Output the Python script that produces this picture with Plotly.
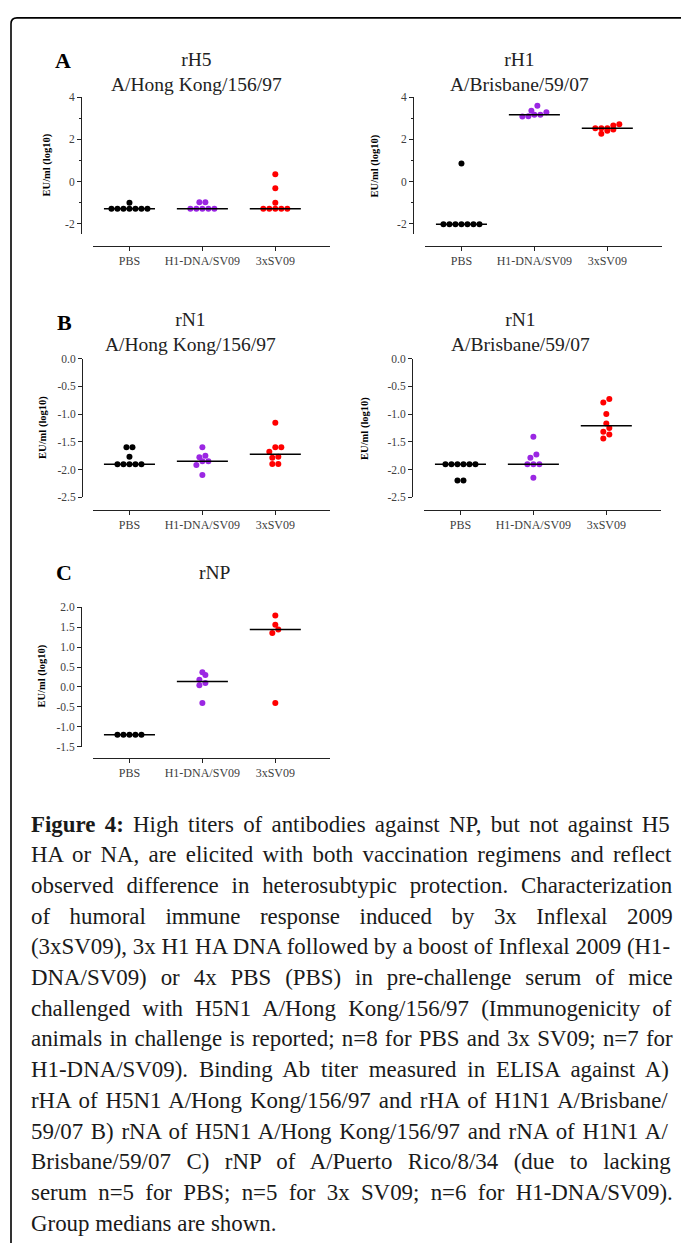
import numpy as np
import plotly.graph_objects as go

W, H = 681, 1249

# ---------------- data ----------------
groups = ["PBS", "H1-DNA/SV09", "3xSV09"]
group_colors = ["#000000", "#9b27e3", "#ff0000"]

# A: rH5 A/Hong Kong/156/97
rH5_pbs = [-1.28, -1.28, -1.28, -1.28, -1.28, -1.28, -1.28, -1.00]
rH5_h1 = [-1.28, -1.28, -1.28, -1.28, -1.28, -0.97, -0.97]
rH5_sv = [-1.28, -1.28, -1.28, -1.28, -1.28, -1.00, -0.31, 0.35]
# A: rH1 A/Brisbane/59/07
rH1_pbs = [-2.02, -2.02, -2.02, -2.02, -2.02, -2.02, -2.02, 0.86]
rH1_h1 = [3.08, 3.10, 3.16, 3.17, 3.28, 3.36, 3.59]
rH1_sv = [2.27, 2.41, 2.47, 2.53, 2.53, 2.53, 2.66, 2.72]
# B: rN1 A/Hong Kong/156/97
rN1hk_pbs = [-1.905, -1.905, -1.905, -1.905, -1.905, -1.77, -1.60, -1.60]
rN1hk_h1 = [-2.10, -1.92, -1.85, -1.85, -1.78, -1.75, -1.60]
rN1hk_sv = [-1.90, -1.90, -1.79, -1.77, -1.68, -1.60, -1.60, -1.155]
# B: rN1 A/Brisbane/59/07
rN1br_pbs = [-1.905, -1.905, -1.905, -1.905, -1.905, -1.905, -2.20, -2.20]
rN1br_h1 = [-2.15, -1.905, -1.905, -1.905, -1.79, -1.73, -1.41]
rN1br_sv = [-1.44, -1.37, -1.32, -1.25, -1.17, -1.00, -0.79, -0.73]
# C: rNP
rNP_pbs = [-1.20, -1.20, -1.20, -1.20, -1.20]
rNP_h1 = [-0.40, 0.04, 0.10, 0.18, 0.30, 0.37]
rNP_sv = [-0.40, 1.35, 1.44, 1.56, 1.79]

ticks_A = [4, 2, 0, -2]
ticktext_A = ["4", "2", "0", "-2"]
minor_A = [3, 1, -1]
ticks_B = [0.0, -0.5, -1.0, -1.5, -2.0, -2.5]
ticktext_B = ["0.0", "-0.5", "-1.0", "-1.5", "-2.0", "-2.5"]
ticks_C = [2.0, 1.5, 1.0, 0.5, 0.0, -0.5, -1.0, -1.5]
ticktext_C = ["2.0", "1.5", "1.0", "0.5", "0.0", "-0.5", "-1.0", "-1.5"]

caption_lines = [
    "<b>Figure 4:</b> High titers of antibodies against NP, but not against H5",
    "HA or NA, are elicited with both vaccination regimens and reflect",
    "observed difference in heterosubtypic protection. Characterization",
    "of humoral immune response induced by 3x Inflexal 2009",
    "(3xSV09), 3x H1 HA DNA followed by a boost of Inflexal 2009 (H1-",
    "DNA/SV09) or 4x PBS (PBS) in pre-challenge serum of mice",
    "challenged with H5N1 A/Hong Kong/156/97 (Immunogenicity of",
    "animals in challenge is reported; n=8 for PBS and 3x SV09; n=7 for",
    "H1-DNA/SV09). Binding Ab titer measured in ELISA against A)",
    "rHA of H5N1 A/Hong Kong/156/97 and rHA of H1N1 A/Brisbane/",
    "59/07 B) rNA of H5N1 A/Hong Kong/156/97 and rNA of H1N1 A/",
    "Brisbane/59/07 C) rNP of A/Puerto Rico/8/34 (due to lacking",
    "serum n=5 for PBS; n=5 for 3x SV09; n=6 for H1-DNA/SV09).",
    "Group medians are shown.",
]

# ---------------- layout helpers ----------------
SERIF = "Liberation Serif, Times New Roman, serif"


def px_x(p):
    return p / W


def px_y(p):
    return 1 - p / H


panels = [
    dict(data=[rH5_pbs, rH5_h1, rH5_sv], title="rH5<br>A/Hong Kong/156/97", tpos=(196, 67),
         xdom=(93, 330), ydom=(92, 230.7), yrange=[-2.5, 4], xpos=242, ypos=81,
         tv=ticks_A, tt=ticktext_A, minor=minor_A, ytl=(47, 161)),
    dict(data=[rH1_pbs, rH1_h1, rH1_sv], title="rH1<br>A/Brisbane/59/07", tpos=(519, 67),
         xdom=(425, 662), ydom=(92, 230.7), yrange=[-2.5, 4], xpos=242, ypos=413,
         tv=ticks_A, tt=ticktext_A, minor=minor_A, ytl=(375, 161)),
    dict(data=[rN1hk_pbs, rN1hk_h1, rN1hk_sv], title="rN1<br>A/Hong Kong/156/97", tpos=(190, 329),
         xdom=(93, 330), ydom=(356, 496), yrange=[-2.5, 0.0], xpos=508.5, ypos=82,
         tv=ticks_B, tt=ticktext_B, minor=None, ytl=(43, 426)),
    dict(data=[rN1br_pbs, rN1br_h1, rN1br_sv], title="rN1<br>A/Brisbane/59/07", tpos=(520, 329),
         xdom=(424, 661), ydom=(356, 496), yrange=[-2.5, 0.0], xpos=508.5, ypos=412,
         tv=ticks_B, tt=ticktext_B, minor=None, ytl=(365, 426)),
    dict(data=[rNP_pbs, rNP_h1, rNP_sv], title="rNP", tpos=(215, 572),
         xdom=(93, 330), ydom=(607, 748), yrange=[-1.5, 2.0], xpos=759, ypos=81,
         tv=ticks_C, tt=ticktext_C, minor=None, ytl=(42, 677)),
]
letters = [("A", 63, 55), ("B", 64, 320), ("C", 64, 572)]

XRANGE = [-0.5, 2.75]
MED_HALF = 0.35


def swarm_offsets(vals, px_per_unit, px_per_cat, bin_px=5.0, step_px=6.0):
    vals = np.asarray(vals, dtype=float)
    order = np.argsort(vals, kind="stable")
    offs = np.zeros(len(vals))
    rows, cur = [], [order[0]]
    for i in order[1:]:
        if (vals[i] - vals[cur[0]]) * px_per_unit < bin_px:
            cur.append(i)
        else:
            rows.append(cur)
            cur = [i]
    rows.append(cur)
    for r in rows:
        n = len(r)
        for k, idx in enumerate(r):
            offs[idx] = (k - (n - 1) / 2) * step_px / px_per_cat
    return offs


fig = go.Figure()
layout = dict(
    width=W, height=H, margin=dict(l=0, r=0, t=0, b=0),
    paper_bgcolor="white", plot_bgcolor="white", showlegend=False,
    font=dict(family=SERIF, color="#222"),
)
annotations = []

for k, p in enumerate(panels, start=1):
    xa = "x" if k == 1 else f"x{k}"
    ya = "y" if k == 1 else f"y{k}"
    px_per_unit = (p["ydom"][1] - p["ydom"][0]) / (p["yrange"][1] - p["yrange"][0])
    px_per_cat = (p["xdom"][1] - p["xdom"][0]) / (XRANGE[1] - XRANGE[0])
    for g, vals in enumerate(p["data"]):
        offs = swarm_offsets(vals, px_per_unit, px_per_cat)
        fig.add_trace(go.Scatter(
            x=g + offs, y=vals, mode="markers", xaxis=xa, yaxis=ya,
            marker=dict(color=group_colors[g], size=6, symbol="circle", line=dict(width=0)),
            cliponaxis=False, hoverinfo="skip"))
        med = float(np.median(vals))
        fig.add_trace(go.Scatter(
            x=[g - MED_HALF, g + MED_HALF], y=[med, med], mode="lines",
            xaxis=xa, yaxis=ya, line=dict(color="#000", width=1.5),
            cliponaxis=False, hoverinfo="skip"))
    xkey = "xaxis" if k == 1 else f"xaxis{k}"
    ykey = "yaxis" if k == 1 else f"yaxis{k}"
    layout[xkey] = dict(
        domain=[px_x(p["xdom"][0]), px_x(p["xdom"][1])], range=XRANGE,
        anchor="free", position=px_y(p["xpos"]),
        showline=True, linecolor="#222", linewidth=1,
        ticks="outside", ticklen=4, tickcolor="#222",
        tickvals=[0, 1, 2], ticktext=groups,
        tickfont=dict(family=SERIF, size=12, color="#404040"),
        showgrid=False, zeroline=False, fixedrange=True)
    ydict = dict(
        domain=[px_y(p["ydom"][1]), px_y(p["ydom"][0])], range=p["yrange"],
        anchor="free", position=px_x(p["ypos"]),
        showline=True, linecolor="#222", linewidth=1,
        ticks="outside", ticklen=4, tickcolor="#222",
        tickvals=p["tv"], ticktext=p["tt"],
        tickfont=dict(family=SERIF, size=11.5, color="#404040"),
        showgrid=False, zeroline=False, fixedrange=True)
    if p["minor"]:
        ydict["minor"] = dict(tickvals=p["minor"], ticks="outside", ticklen=2.5,
                              tickcolor="#222", showgrid=False)
    layout[ykey] = ydict
    annotations.append(dict(
        text=p["title"], x=px_x(p["tpos"][0]), y=px_y(p["tpos"][1]),
        xref="paper", yref="paper", showarrow=False, xanchor="center", yanchor="middle",
        font=dict(family=SERIF, size=19.5, color="#222")))
    annotations.append(dict(
        text="<b>EU/ml (log10)</b>", x=px_x(p["ytl"][0]), y=px_y(p["ytl"][1]),
        xref="paper", yref="paper", showarrow=False, textangle=-90,
        xanchor="center", yanchor="middle",
        font=dict(family=SERIF, size=10.5, color="#000")))

for L, lx, ly in letters:
    annotations.append(dict(
        text=f"<b>{L}</b>", x=px_x(lx), y=px_y(ly), xref="paper", yref="paper",
        showarrow=False, xanchor="center", yanchor="middle",
        font=dict(family=SERIF, size=22, color="#000")))

# ---------------- caption (justified via word-spacing) ----------------
REG = {' ': 250, '!': 333, '(': 333, ')': 333, ',': 250, '-': 333, '.': 250, '/': 278,
       ':': 278, ';': 278, '=': 564}
for d in "0123456789":
    REG[d] = 500
REG.update(dict(A=722, B=667, C=667, D=722, E=611, F=556, G=722, H=722, I=333, J=389, K=722,
                L=611, M=889, N=722, O=722, P=556, Q=722, R=667, S=556, T=611, U=722, V=722,
                W=944, X=722, Y=722, Z=611))
REG.update(dict(a=444, b=500, c=444, d=500, e=444, f=333, g=500, h=500, i=278, j=278, k=500,
                l=278, m=778, n=500, o=500, p=500, q=500, r=333, s=389, t=278, u=500, v=500,
                w=722, x=500, y=500, z=444))
BOLD = {'F': 611, 'i': 278, 'g': 500, 'u': 556, 'r': 444, 'e': 444, ' ': 250, '4': 500, ':': 333}

CAP_SIZE = 22.9
CAP_LEFT, CAP_RIGHT = 29, 671
CAP_TOP, CAP_STEP = 826, 31


def text_width(line, size):
    w = 0.0
    rest = line
    if rest.startswith("<b>"):
        bpart, rest = rest[3:].split("</b>", 1)
        w += sum(BOLD.get(c, 500) for c in bpart)
    w += sum(REG.get(c, 500) for c in rest)
    return w * size / 1000.0


for i, line in enumerate(caption_lines):
    plain = line.replace("<b>", "").replace("</b>", "")
    nsp = plain.count(" ")
    if i < len(caption_lines) - 1 and nsp > 0:
        extra = (CAP_RIGHT - CAP_LEFT - text_width(line, CAP_SIZE)) / nsp
        txt = f'<span style="word-spacing:{extra:.2f}px">{line}</span>'
    else:
        txt = line
    annotations.append(dict(
        text=txt, x=px_x(CAP_LEFT), y=px_y(CAP_TOP + i * CAP_STEP), xref="paper", yref="paper",
        showarrow=False, xanchor="left", yanchor="middle", align="left",
        font=dict(family=SERIF, size=CAP_SIZE, color="#1a1a1a")))

layout["annotations"] = annotations

# frame border (rounded top-left corner)
x0, y0, r = 11, 12, 6
path = (f"M {px_x(x0)},{px_y(H)} L {px_x(x0)},{px_y(y0 + r)} "
        f"Q {px_x(x0)},{px_y(y0)} {px_x(x0 + r)},{px_y(y0)} L {px_x(W)},{px_y(y0)}")
layout["shapes"] = [dict(type="path", path=path, xref="paper", yref="paper",
                         line=dict(color="#000", width=1.6))]

fig.update_layout(**layout)
fig.write_html(
    "out.html",
    config={"displayModeBar": False},
    post_script="document.body.style.margin='0';document.body.style.padding='0';"
                "document.body.style.overflow='hidden';",
)
